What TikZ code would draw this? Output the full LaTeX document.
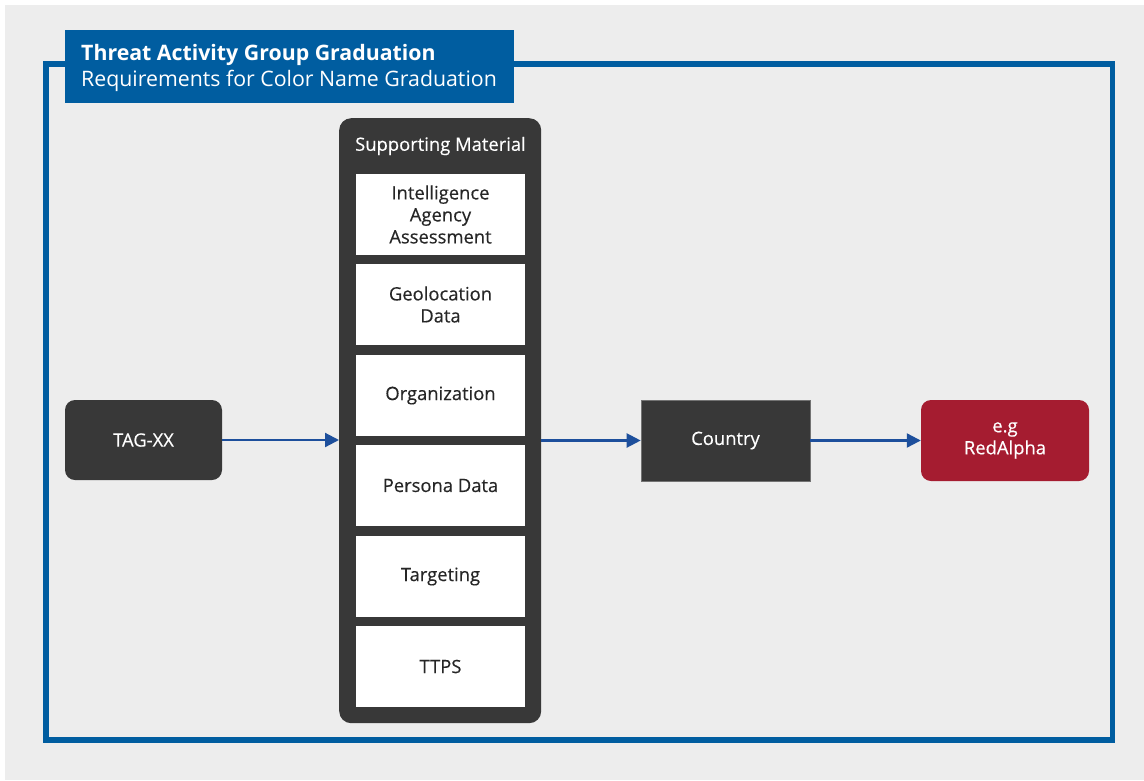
\documentclass[tikz,border=0pt]{standalone}
\usepackage{fontspec}
\setmainfont{Open Sans}
\newfontfamily\medfont{Open Sans}[FakeBold=0.35]
\usetikzlibrary{arrows.meta}
\definecolor{pagebg}{HTML}{EDEDED}
\definecolor{frameblue}{HTML}{005DA0}
\definecolor{arrowblue}{HTML}{1D4F9C}
\definecolor{darkbox}{HTML}{383838}
\definecolor{redbox}{HTML}{A51C30}
\tikzset{
  x=1pt, y=-1pt,
  bodytext/.style={font=\medfont\fontsize{18.4}{22}\selectfont},
  darknode/.style={fill=darkbox, text=white, rounded corners=10pt,
    minimum width=157pt, minimum height=80pt, inner sep=0pt,
    bodytext, align=center},
  itembox/.style={fill=white, text=black!85, minimum width=169pt,
    minimum height=81pt, inner sep=0pt, align=center, bodytext},
  flow/.style={draw=arrowblue, line width=2.2pt,
    -{Triangle[length=14pt,width=14pt]}},
}
\begin{document}
\begin{tikzpicture}
  % page and canvas
  \useasboundingbox (0,0) rectangle (1144,780);
  \fill[white] (0,0) rectangle (1144,780);
  \fill[pagebg] (5,5) rectangle (1144,780);
  % outer frame
  \draw[frameblue, line width=5.5pt] (46,64) rectangle (1112.5,740);
  % title banner
  \node[fill=frameblue, minimum width=449pt, minimum height=73pt,
        inner sep=0pt, anchor=north west] (banner) at (65,30) {};
  \node[anchor=north west, text=white, align=left, inner sep=0pt,
        font=\fontsize{21.3}{26}\selectfont] (title) at (81,44)
    {\textbf{Threat Activity Group Graduation}\\Requirements for Color Name Graduation};
  % supporting material column
  \node[fill=darkbox, rounded corners=12pt, minimum width=202pt,
        minimum height=605pt, inner sep=0pt, anchor=north west] (support) at (339,118) {};
  \node[text=white, bodytext, inner sep=0pt] (supporttitle)
    at (440.5,146) {Supporting Material};
  \node[itembox] (m1) at (440.5,214.5) {Intelligence\\Agency\\Assessment};
  \node[itembox] (m2) at (440.5,304.5) {Geolocation\\Data};
  \node[itembox] (m3) at (440.5,395.5) {Organization};
  \node[itembox] (m4) at (440.5,485.5) {Persona Data};
  \node[itembox] (m5) at (440.5,576.5) {Targeting};
  \node[itembox] (m6) at (440.5,666.5) {TTPS};
  % flow nodes
  \node[darknode] (tag) at (143.5,440) {TAG-XX};
  \node[darknode, rounded corners=0pt, draw=black!55, line width=0.6pt,
        minimum width=169pt, minimum height=81pt] (country) at (725.5,440.5) {Country};
  \node[darknode, fill=redbox, minimum width=168pt, minimum height=81pt]
    (red) at (1005,440.5) {e.g\\RedAlpha};
  % connectors
  \draw[flow] (tag.east) -- (support.west |- tag.east);
  \draw[flow] (support.east |- country.west) -- (country.west);
  \draw[flow] (country.east) -- (red.west);
\end{tikzpicture}
\end{document}
